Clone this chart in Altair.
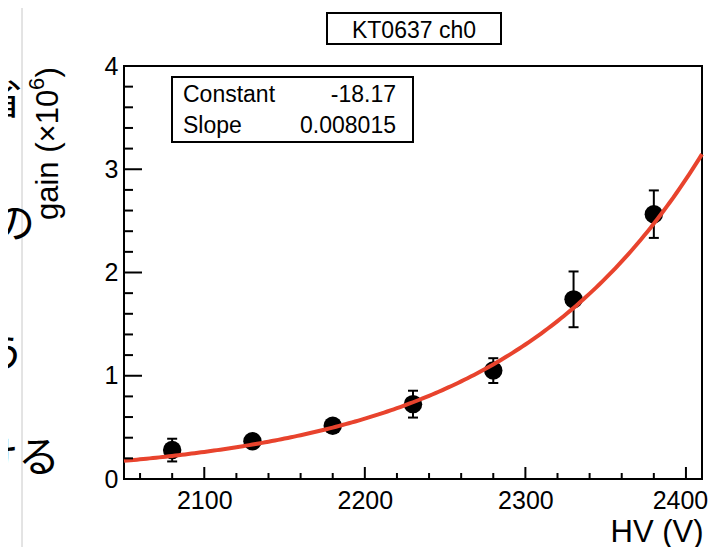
import altair as alt
import pandas as pd

# ---------------- data ----------------
hv = [2080, 2130, 2180, 2230, 2280, 2330, 2380]
gain = [0.28, 0.365, 0.515, 0.725, 1.05, 1.74, 2.565]
gain_err = [0.11, 0.05, 0.05, 0.13, 0.12, 0.27, 0.23]

fit_constant = -18.17
fit_slope = 0.008015
fit_range = [2050, 2410]

x_major = [2100, 2200, 2300, 2400]
x_minor = [2060, 2080, 2120, 2140, 2160, 2180, 2220, 2240, 2260, 2280,
           2320, 2340, 2360, 2380]
y_major = [0, 1, 2, 3, 4]
y_minor = [0.2, 0.4, 0.6, 0.8, 1.2, 1.4, 1.6, 1.8, 2.2, 2.4, 2.6, 2.8,
           3.2, 3.4, 3.6, 3.8]

title_text = "KT0637 ch0"
x_title = "HV (V)"
y_title_parts = ["gain (×10", "6", ")"]
stats_names = ["Constant", "Slope"]
stats_values = ["-18.17", "0.008015"]
side_text = ["省", "の", "う", "ける"]

# ---------------- layout ----------------
W, H = 578, 413
FONT = "Liberation Sans"
RED = "#e8432d"

xs = alt.Scale(domain=[2050, 2410], nice=False, zero=False)
ys = alt.Scale(domain=[0, 4], nice=False, zero=False)

xaxis = alt.Axis(values=x_major, format="d", domain=False, ticks=False, grid=False,
                 labelFontSize=25, labelFont=FONT, labelColor="black", labelPadding=9,
                 labelFlush=False, labelOverlap=False,
                 labelOffset={"condition": {"test": f"datum.value == {x_major[-1]}", "value": -6},
                              "value": 0},
                 title=x_title, titleFont=FONT, titleFontSize=31, titleFontWeight="normal",
                 titleColor="black", titleAlign="right", titleX=W + 1, titleY=62,
                 titleBaseline="alphabetic")
yaxis = alt.Axis(values=y_major, format="d", domain=False, ticks=False, grid=False,
                 labelFontSize=25, labelFont=FONT, labelColor="black", labelPadding=6,
                 labelFlush=False, labelOverlap=False, labelBaseline="middle",
                 title=None)


def X(field):
    return alt.X(field, type="quantitative", scale=xs, axis=xaxis)


def Y(field):
    return alt.Y(field, type="quantitative", scale=ys, axis=yaxis)


df = pd.DataFrame({"hv": hv, "gain": gain, "err": gain_err})
base = alt.Chart(df).transform_calculate(lo="datum.gain - datum.err",
                                         hi="datum.gain + datum.err")

err_rule = base.mark_rule(color="black", strokeWidth=2).encode(
    x=X("hv"), y=Y("lo"), y2="hi:Q")
cap_lo = base.mark_tick(orient="horizontal", size=10, thickness=2, color="black", opacity=1).encode(
    x=X("hv"), y=Y("lo"))
cap_hi = base.mark_tick(orient="horizontal", size=10, thickness=2, color="black", opacity=1).encode(
    x=X("hv"), y=Y("hi"))
points = base.mark_point(filled=True, size=340, color="black", opacity=1, strokeWidth=0).encode(
    x=X("hv"), y=Y("gain"))

fit = alt.Chart(alt.sequence(fit_range[0], fit_range[1] + 1, 2, as_="v")).transform_calculate(
    g=f"exp({fit_constant} + {fit_slope} * datum.v)"
).mark_line(color=RED, strokeWidth=4).encode(x=X("v"), y=Y("g"))


def xticks(vals, length):
    return alt.Chart(pd.DataFrame({"v": vals})).mark_rule(color="black", strokeWidth=2).encode(
        x=X("v"), y=alt.value(H), y2=alt.value(H - length))


def yticks(vals, length):
    return alt.Chart(pd.DataFrame({"v": vals})).mark_rule(color="black", strokeWidth=2).encode(
        y=Y("v"), x=alt.value(0), x2=alt.value(length))


one = pd.DataFrame({"a": [0]})


def label(text, x, y, size, align="left", baseline="alphabetic", angle=0, font=FONT):
    return alt.Chart(one).mark_text(
        text=text, font=font, fontSize=size, align=align, baseline=baseline,
        angle=angle, color="black").encode(x=alt.value(x), y=alt.value(y))


# y-axis title, rotated, with a real superscript
y_title_layers = [
    label(y_title_parts[0], -66, 154, 31, angle=270),
    label(y_title_parts[1], -80, 24, 22, angle=270),
    label(y_title_parts[2], -66, 11.5, 31, angle=270),
]

stats_box = alt.Chart(one).mark_rect(fill="white", stroke="black", strokeWidth=2).encode(
    x=alt.value(48), x2=alt.value(289), y=alt.value(11), y2=alt.value(76))
stats_layers = []
for i, ypix in enumerate([36, 67]):
    stats_layers.append(label(stats_names[i], 59, ypix, 23, align="left"))
    stats_layers.append(label(stats_values[i], 272, ypix, 23, align="right"))

title_box = alt.Chart(one).mark_rect(fill="white", stroke="black", strokeWidth=2).encode(
    x=alt.value(203), x2=alt.value(377), y=alt.value(-53), y2=alt.value(-22))
title_mark = label(title_text, 290, -28, 23, align="center")

gray_line = alt.Chart(one).mark_rule(color="#c8c8c8", strokeWidth=1).encode(
    x=alt.value(-102), y=alt.value(-61), y2=alt.value(490))

side_layers = []
for txt, (xr, yc) in zip(side_text, [(-102, 35), (-89, 159), (-99, 290), (-64, 393)]):
    side_layers.append(label(txt, xr, yc, 42, align="right", baseline="middle",
                             font="Noto Sans CJK JP"))

chart = alt.layer(
    err_rule, cap_lo, cap_hi, points, fit,
    xticks(x_major, 12), xticks(x_minor, 6), yticks(y_major, 18), yticks(y_minor, 9),
    stats_box, *stats_layers, title_box, title_mark, *y_title_layers,
    gray_line, *side_layers,
).properties(
    width=W, height=H,
    background="white",
    autosize=alt.AutoSizeParams(type="none"),
    padding={"left": 116, "top": 58, "right": 7, "bottom": 68},
).configure_view(stroke="black", strokeWidth=2)

chart.save("out.html", embed_options={"renderer": "svg", "actions": False})
